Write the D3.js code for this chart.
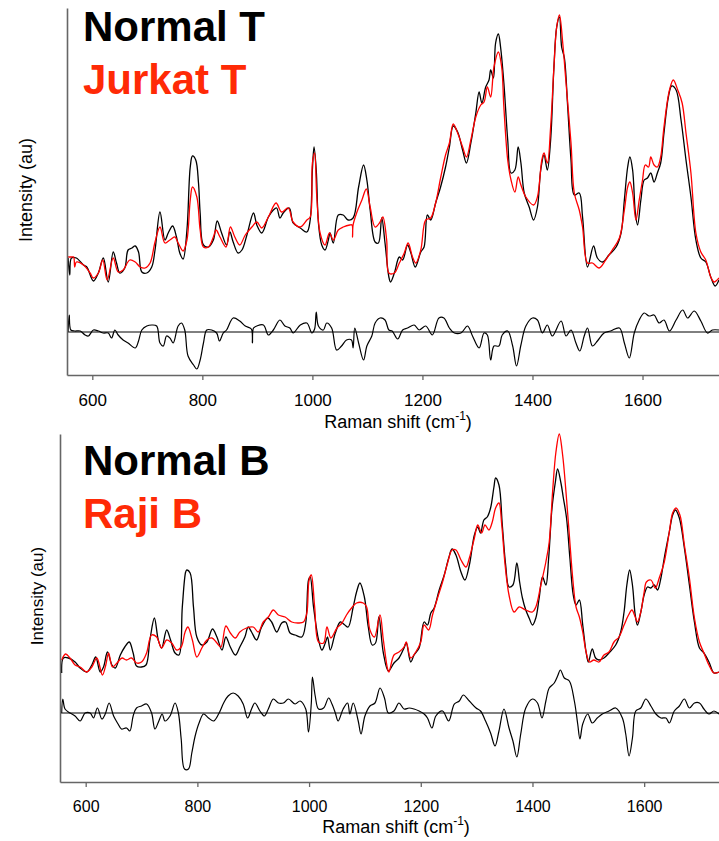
<!DOCTYPE html>
<html>
<head>
<meta charset="utf-8">
<script src="https://cdn.jsdelivr.net/npm/d3@7"></script>
<style>
  html, body { margin: 0; padding: 0; background: #fff; }
  svg { display: block; font-family: "Liberation Sans", Arial, sans-serif; }
</style>
</head>
<body>
<svg id="chart" width="719" height="841"></svg>
<script>
// Raman spectra: [shift (cm^-1), intensity (au)]
const normalT = [[556,117],[559,100],[562,117],[571,117],[584,110],[590,108],[602,94],[611,102],[620,117],[629,93],[638,123],[644,112],[650,102],[659,107],[665,125],[672,127],[678,129],[684,123],[690,103],[699,102],[708,108],[714,125],[723,163],[732,135],[738,142],[746,149],[753,138],[759,122],[765,116],[772,145],[778,208],[782,219],[788,215],[793,192],[796,162],[802,130],[811,128],[820,135],[827,154],[835,142],[844,130],[850,143],[856,133],[865,122],[872,125],[881,140],[893,162],[899,150],[908,142],[920,158],[929,165],[935,167],[941,157],[947,162],[958,167],[965,152],[978,147],[990,143],[996,155],[1000,205],[1003,228],[1007,205],[1011,152],[1017,130],[1023,125],[1029,135],[1032,142],[1038,132],[1047,160],[1056,160],[1065,155],[1074,157],[1084,188],[1093,210],[1099,195],[1105,165],[1114,133],[1120,132],[1126,157],[1132,132],[1139,98],[1142,93],[1149,102],[1158,118],[1164,115],[1173,130],[1179,122],[1187,108],[1197,123],[1203,128],[1209,160],[1215,155],[1224,172],[1233,188],[1242,208],[1249,228],[1256,249],[1264,243],[1273,225],[1280,212],[1288,232],[1297,262],[1303,283],[1308,272],[1315,288],[1321,295],[1324,305],[1329,297],[1333,332],[1338,341],[1342,328],[1348,292],[1355,235],[1361,202],[1368,205],[1374,228],[1379,212],[1385,182],[1394,168],[1402,155],[1409,168],[1415,205],[1421,220],[1427,205],[1433,235],[1439,308],[1444,348],[1449,358],[1453,328],[1458,317],[1464,268],[1470,215],[1476,180],[1485,182],[1491,158],[1500,108],[1511,129],[1518,117],[1527,113],[1539,120],[1552,128],[1561,142],[1567,175],[1573,208],[1577,218],[1582,205],[1587,162],[1591,150],[1597,175],[1603,195],[1609,197],[1615,202],[1621,193],[1627,202],[1633,212],[1639,242],[1647,278],[1653,289],[1661,285],[1670,255],[1679,215],[1688,178],[1697,135],[1706,117],[1715,113],[1724,98],[1732,89],[1739,95]];

const jurkatT = [[556,118],[562,118],[566,118],[568,108],[571,113],[584,110],[596,102],[602,97],[611,102],[619,115],[627,95],[638,117],[647,103],[656,105],[668,115],[678,113],[687,108],[696,107],[705,112],[714,133],[723,148],[732,132],[741,135],[750,138],[756,132],[765,124],[772,135],[778,175],[782,188],[790,178],[796,145],[802,128],[811,128],[820,138],[825,145],[832,138],[843,128],[851,148],[859,138],[868,130],[878,140],[890,148],[899,153],[908,147],[920,158],[934,172],[944,163],[956,167],[965,153],[978,148],[990,155],[996,158],[1000,212],[1004,222],[1008,178],[1014,142],[1023,130],[1031,142],[1038,135],[1047,145],[1056,148],[1068,150],[1072,150],[1073,138],[1074,150],[1081,163],[1090,175],[1098,186],[1105,168],[1114,148],[1123,153],[1128,158],[1135,135],[1139,102],[1149,102],[1158,112],[1167,122],[1174,132],[1182,118],[1188,112],[1197,125],[1206,155],[1215,157],[1224,172],[1233,197],[1242,220],[1249,232],[1256,251],[1264,242],[1273,228],[1280,218],[1288,235],[1297,258],[1306,270],[1312,273],[1318,288],[1324,278],[1330,308],[1338,323],[1344,308],[1348,268],[1355,215],[1361,195],[1368,183],[1374,198],[1379,190],[1388,178],[1402,170],[1409,178],[1417,215],[1421,222],[1427,212],[1433,248],[1439,308],[1444,348],[1449,360],[1455,332],[1461,292],[1470,232],[1476,182],[1485,165],[1491,148],[1500,112],[1509,112],[1521,107],[1533,115],[1545,125],[1558,137],[1567,165],[1573,188],[1577,193],[1582,182],[1588,155],[1594,175],[1600,195],[1605,210],[1611,208],[1615,218],[1621,210],[1627,208],[1633,218],[1639,248],[1649,285],[1656,295],[1664,285],[1672,272],[1679,242],[1688,202],[1697,142],[1706,123],[1715,115],[1724,98],[1730,93],[1739,97]];

// Difference spectrum (Jurkat T - Normal T)
const diffT = [[556,0],[558,17],[561,2],[568,1],[578,1],[587,-3],[593,-4],[602,2],[611,1],[620,-1],[629,-1],[635,-6],[641,2],[647,-3],[656,-8],[665,-11],[678,-16],[684,-9],[690,2],[699,6],[708,7],[717,6],[723,-11],[729,-14],[735,-4],[741,-6],[747,-11],[756,6],[762,9],[768,2],[774,-24],[784,-33],[790,-37],[796,-28],[802,-11],[808,2],[817,2],[826,-1],[831,-9],[838,-1],[844,2],[856,14],[868,11],[878,6],[889,3],[891,-11],[893,4],[899,6],[911,7],[920,-3],[929,2],[941,12],[950,6],[959,4],[965,-1],[978,7],[990,9],[999,-1],[1004,3],[1007,20],[1011,6],[1020,2],[1026,9],[1035,4],[1044,-18],[1053,-14],[1062,-8],[1071,-8],[1074,-16],[1077,4],[1084,-11],[1093,-28],[1099,-14],[1108,-4],[1114,9],[1123,14],[1132,12],[1139,2],[1145,1],[1155,-7],[1164,2],[1173,4],[1185,7],[1194,2],[1206,6],[1218,-3],[1230,14],[1239,14],[1249,4],[1258,-1],[1270,-1],[1282,6],[1291,-4],[1303,-16],[1312,-1],[1318,-3],[1324,-28],[1330,-14],[1339,-14],[1345,-3],[1355,1],[1364,-14],[1371,-34],[1379,-13],[1388,6],[1400,14],[1409,12],[1418,-1],[1427,7],[1436,-4],[1452,11],[1461,-4],[1470,2],[1479,-11],[1486,-19],[1494,-4],[1500,4],[1509,-14],[1518,-9],[1530,-1],[1542,1],[1558,4],[1567,-11],[1576,-26],[1585,-1],[1594,12],[1603,19],[1612,16],[1621,17],[1630,9],[1639,12],[1649,1],[1661,12],[1673,22],[1682,14],[1694,21],[1706,11],[1718,-1],[1727,2],[1739,2]];

const normalB = [[557,109],[560,124],[569,124],[581,120],[590,114],[602,110],[611,117],[618,125],[626,110],[632,115],[639,130],[647,117],[653,114],[662,127],[670,135],[678,140],[685,129],[691,116],[700,115],[708,117],[715,142],[723,164],[730,142],[736,134],[745,152],[752,142],[760,129],[767,127],[773,175],[779,210],[781,212],[787,209],[793,175],[799,145],[808,137],[817,140],[827,153],[835,145],[844,132],[851,145],[859,135],[868,127],[876,135],[885,145],[891,155],[897,150],[906,142],[915,155],[926,164],[933,160],[942,150],[951,159],[958,160],[966,149],[975,147],[987,145],[994,159],[999,202],[1002,205],[1008,175],[1017,142],[1023,132],[1029,139],[1033,145],[1038,132],[1047,149],[1056,160],[1064,157],[1070,155],[1079,175],[1085,190],[1091,199],[1099,185],[1106,155],[1113,137],[1119,139],[1125,165],[1133,129],[1142,111],[1152,119],[1161,124],[1170,134],[1174,139],[1182,120],[1188,127],[1197,134],[1206,160],[1212,157],[1218,169],[1224,174],[1233,192],[1242,207],[1250,224],[1256,233],[1263,227],[1272,210],[1279,202],[1287,217],[1296,247],[1302,255],[1307,249],[1313,262],[1319,265],[1325,274],[1331,295],[1334,304],[1340,297],[1346,257],[1352,217],[1358,195],[1365,197],[1372,219],[1377,200],[1382,184],[1388,172],[1394,164],[1400,157],[1406,164],[1412,184],[1418,205],[1424,197],[1429,224],[1435,274],[1441,300],[1445,313],[1451,299],[1455,285],[1461,264],[1467,224],[1473,187],[1478,177],[1484,182],[1490,157],[1496,130],[1500,120],[1507,133],[1513,124],[1519,122],[1528,124],[1537,129],[1549,137],[1558,150],[1564,170],[1569,197],[1574,212],[1579,197],[1584,167],[1588,157],[1594,170],[1600,187],[1606,195],[1612,194],[1618,197],[1624,192],[1630,204],[1636,224],[1645,250],[1651,267],[1656,272],[1663,264],[1672,234],[1681,197],[1690,160],[1699,134],[1707,129],[1716,120],[1725,109],[1734,110]];

const rajiB = [[557,122],[564,128],[572,124],[581,117],[590,115],[602,110],[611,115],[620,124],[630,107],[636,117],[641,129],[648,115],[656,119],[665,124],[673,122],[682,124],[691,119],[700,120],[709,129],[718,147],[727,145],[736,134],[745,142],[754,139],[763,132],[771,135],[778,150],[783,155],[791,142],[799,125],[808,134],[817,142],[826,144],[835,139],[842,135],[851,156],[859,149],[868,144],[876,150],[888,154],[900,155],[909,150],[918,160],[927,165],[936,172],[945,167],[957,165],[969,160],[981,159],[990,160],[996,169],[1000,202],[1004,207],[1010,175],[1017,140],[1026,139],[1032,155],[1039,144],[1050,154],[1059,159],[1067,167],[1076,174],[1085,179],[1097,179],[1103,175],[1109,152],[1117,145],[1127,167],[1133,142],[1141,112],[1143,110],[1152,127],[1161,130],[1170,135],[1174,140],[1182,124],[1191,130],[1200,140],[1206,157],[1214,152],[1221,167],[1230,184],[1239,200],[1248,219],[1256,232],[1263,232],[1272,222],[1281,215],[1287,224],[1296,244],[1302,257],[1309,249],[1315,257],[1322,252],[1328,260],[1334,274],[1340,279],[1345,257],[1351,217],[1358,187],[1367,170],[1376,175],[1388,172],[1400,170],[1406,175],[1415,197],[1424,220],[1430,240],[1436,290],[1442,330],[1448,348],[1454,327],[1460,290],[1466,247],[1472,204],[1478,175],[1484,165],[1490,150],[1496,130],[1502,120],[1510,122],[1519,120],[1528,127],[1537,130],[1546,140],[1555,145],[1564,157],[1572,167],[1578,172],[1584,165],[1588,160],[1594,170],[1600,190],[1604,200],[1612,202],[1620,194],[1627,204],[1636,220],[1645,250],[1651,269],[1657,274],[1664,267],[1672,237],[1681,204],[1690,164],[1699,140],[1707,129],[1716,117],[1725,109],[1734,110]];

// Difference spectrum (Raji B - Normal B)
const diffB = [[557,0],[559,14],[563,4],[572,0],[581,-3],[590,-8],[599,0],[608,0],[614,-5],[621,5],[629,-6],[635,-1],[642,10],[650,-3],[658,-11],[664,-16],[673,-15],[679,-18],[685,-3],[691,5],[700,7],[709,9],[718,0],[724,-16],[731,-8],[737,-1],[742,-8],[751,-3],[760,10],[766,0],[771,-26],[777,-56],[784,-56],[790,-40],[796,-23],[803,-10],[811,-1],[820,-5],[829,-8],[838,-1],[847,10],[855,17],[864,20],[873,17],[882,9],[890,-5],[897,4],[903,10],[912,2],[920,-3],[927,4],[936,14],[945,10],[954,10],[963,14],[975,9],[984,12],[994,4],[999,-19],[1004,10],[1006,36],[1011,17],[1017,4],[1026,5],[1035,15],[1041,9],[1047,0],[1052,-8],[1061,4],[1069,10],[1073,-1],[1079,10],[1088,-8],[1093,-21],[1100,-3],[1109,7],[1118,10],[1127,25],[1135,15],[1142,0],[1152,2],[1161,10],[1170,4],[1179,5],[1188,4],[1197,2],[1206,-1],[1212,-5],[1220,-15],[1227,-3],[1239,2],[1250,-8],[1260,9],[1269,12],[1276,18],[1287,12],[1299,5],[1307,2],[1316,-8],[1325,-20],[1333,-33],[1340,-18],[1349,4],[1358,-15],[1365,-28],[1372,-44],[1379,-21],[1388,5],[1400,14],[1409,10],[1417,-5],[1424,12],[1430,25],[1439,30],[1445,37],[1450,43],[1457,35],[1466,32],[1475,12],[1481,-11],[1485,-26],[1490,-11],[1499,-1],[1507,-10],[1516,-5],[1525,-1],[1537,2],[1549,5],[1561,-5],[1567,-21],[1573,-43],[1579,-25],[1585,2],[1594,5],[1603,14],[1612,7],[1621,-1],[1630,-5],[1639,-5],[1645,-10],[1654,2],[1663,7],[1672,14],[1681,5],[1690,10],[1699,10],[1707,4],[1716,-1],[1725,2],[1734,-1]];

const shiftTicks = [600, 800, 1000, 1200, 1400, 1600];
const titlesT = ["Normal T", "Jurkat T"];
const titlesB = ["Normal B", "Raji B"];
const xTitle = "Raman shift (cm";
const yTitle = "Intensity (au)";

// Panel layout (pixels) and plotting styles
const panels = [
  { ref: normalT, cancer: jurkatT, diff: diffT, titles: titlesT,
    left: 67, right: 719, top: 8, bottom: 375,
    xDomain: [554, 1739], yDomain: [0, 367], diffBase: 43,
    zeroColor: "#000", zeroWidth: 1,
    tickFont: 17, titleBase: [41, 94], xTitleX: 398, xTitleY: 428,
    yTitleX: 32, yTitleY: 190, yTitleFont: 18 },
  { ref: normalB, cancer: rajiB, diff: diffB, titles: titlesB,
    left: 60, right: 719, top: 434, bottom: 782,
    xDomain: [554, 1734], yDomain: [0, 348], diffBase: 69,
    zeroColor: "#555", zeroWidth: 1.4,
    tickFont: 16, titleBase: [475, 528], xTitleX: 396, xTitleY: 833,
    yTitleX: 43, yTitleY: 596, yTitleFont: 17 }
];

const svg = d3.select("#chart");
const axisGrey = "#666";
const curve = d3.curveCatmullRom.alpha(0.5);

panels.forEach(p => {
  const x = d3.scaleLinear().domain(p.xDomain).range([p.left, p.right]);
  const y = d3.scaleLinear().domain(p.yDomain).range([p.bottom, p.top]);
  const g = svg.append("g");

  const line = d3.line().curve(curve).x(d => x(d[0])).y(d => y(d[1]));
  const diffLine = d3.line().curve(curve).x(d => x(d[0])).y(d => y(p.diffBase + d[1]));

  // zero line of the difference spectrum
  g.append("line")
    .attr("x1", p.left).attr("x2", p.right)
    .attr("y1", y(p.diffBase)).attr("y2", y(p.diffBase))
    .attr("stroke", p.zeroColor).attr("stroke-width", p.zeroWidth);

  g.append("path").datum(p.diff).attr("d", diffLine)
    .attr("fill", "none").attr("stroke", "#000").attr("stroke-width", 1.2)
    .attr("stroke-linejoin", "round");

  g.append("path").datum(p.ref).attr("d", line)
    .attr("fill", "none").attr("stroke", "#000").attr("stroke-width", 1.3)
    .attr("stroke-linejoin", "round");

  g.append("path").datum(p.cancer).attr("d", line)
    .attr("fill", "none").attr("stroke", "#ff0000").attr("stroke-width", 1.3)
    .attr("stroke-linejoin", "round");

  // axes
  const xAxis = g.append("g")
    .attr("transform", `translate(0,${p.bottom})`)
    .call(d3.axisBottom(x).tickValues(shiftTicks).tickFormat(d3.format("d"))
      .tickSize(5).tickSizeOuter(0).tickPadding(14));
  xAxis.select(".domain").attr("stroke", axisGrey).attr("stroke-width", 1.6);
  xAxis.selectAll(".tick line").attr("stroke", axisGrey).attr("stroke-width", 1.3);
  xAxis.selectAll(".tick text")
    .attr("font-family", "'Liberation Sans', Arial, sans-serif")
    .attr("font-size", p.tickFont).attr("fill", "#000");

  const yAxis = g.append("g")
    .attr("transform", `translate(${p.left},0)`)
    .call(d3.axisLeft(y).tickValues([]).tickSizeOuter(0));
  yAxis.select(".domain").attr("stroke", axisGrey).attr("stroke-width", 1.6);

  // axis titles
  const xt = g.append("text")
    .attr("x", p.xTitleX).attr("y", p.xTitleY)
    .attr("text-anchor", "middle").attr("font-size", 18).attr("fill", "#000");
  xt.append("tspan").text(xTitle);
  xt.append("tspan").text("-1").attr("font-size", 12).attr("dy", -8);
  xt.append("tspan").text(")").attr("font-size", 18).attr("dy", 8);

  g.append("text")
    .attr("transform", `translate(${p.yTitleX},${p.yTitleY}) rotate(-90)`)
    .attr("text-anchor", "middle").attr("font-size", p.yTitleFont).attr("fill", "#000")
    .text(yTitle);

  // series titles
  g.append("text").attr("x", 83).attr("y", p.titleBase[0])
    .attr("font-size", 42).attr("font-weight", "bold").attr("fill", "#000")
    .text(p.titles[0]);
  g.append("text").attr("x", 83).attr("y", p.titleBase[1])
    .attr("font-size", 42).attr("font-weight", "bold").attr("fill", "#ff2a06")
    .text(p.titles[1]);
});
</script>
</body>
</html>
